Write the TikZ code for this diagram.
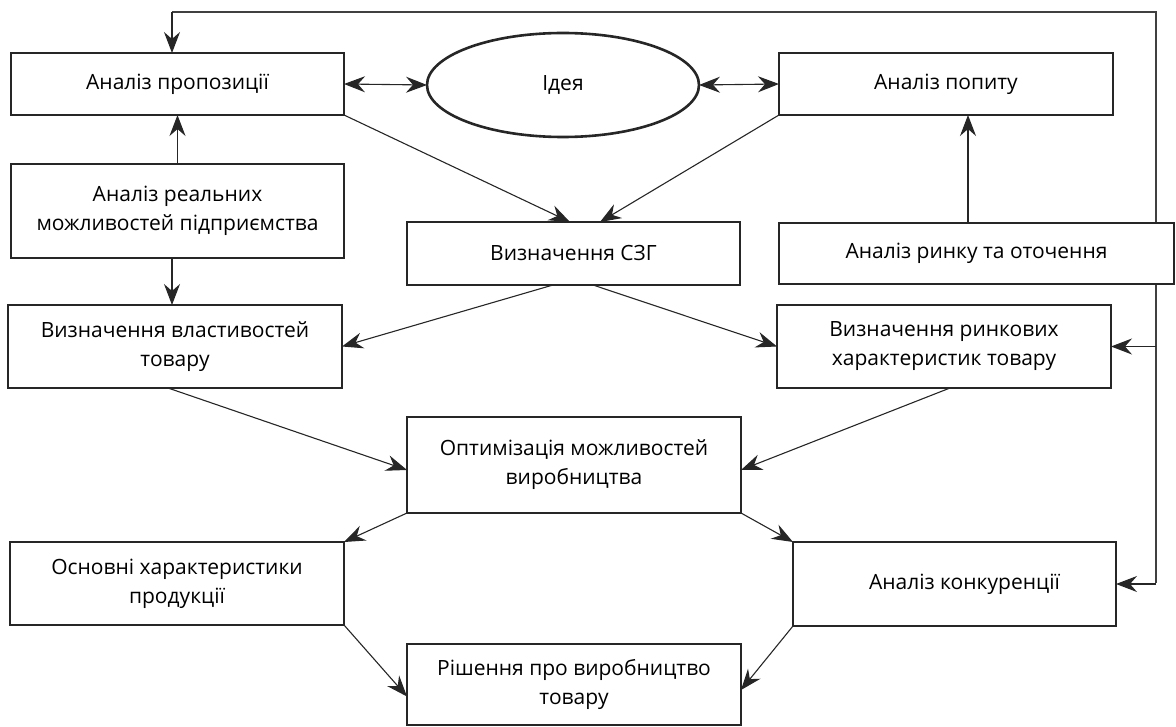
\documentclass[tikz,border=0pt]{standalone}
\usepackage{fontspec}
\setmainfont{Open Sans}
\usetikzlibrary{arrows.meta,shapes.geometric,calc,backgrounds}
\tikzset{
  box/.style={draw=black!85, line width=2.8pt, fill=white, rectangle, inner sep=0pt, outer sep=0pt, align=center, font=\fontsize{21}{29}\selectfont},
  idea/.style={draw=black!85, line width=2.6pt, fill=white, ellipse, inner sep=0pt, outer sep=0pt, minimum width=272pt, minimum height=104pt, font=\fontsize{21}{29}\selectfont},
  conn/.style={draw=black!85, line width=1.1pt, -{Stealth[length=21pt,width=16pt,inset=7pt]}},
  dconn/.style={draw=black!85, line width=1.1pt, {Stealth[length=21pt,width=16pt,inset=7pt]}-{Stealth[length=21pt,width=16pt,inset=7pt]}},
  fb/.style={draw=black!75, line width=1.1pt}
}
\begin{document}
\begin{tikzpicture}[x=1pt,y=-1pt]
\useasboundingbox (0,0) rectangle (1176,727);
\node[box, minimum width=333pt, minimum height=62pt] (b1) at (177.5,84) {Аналіз пропозиції};
\node[idea] (e) at (563,85) {Ідея};
\node[box, minimum width=334pt, minimum height=62pt] (b3) at (946,84) {Аналіз попиту};
\node[box, minimum width=333pt, minimum height=94pt] (b4) at (177.5,211) {Аналіз реальних\\можливостей підприємства};
\node[box, minimum width=333pt, minimum height=63pt] (b5) at (573.5,253.5) {Визначення СЗГ};
\node[box, minimum width=395pt, minimum height=61pt] (b6) at (976.5,253.5) {Аналіз ринку та оточення};
\node[box, minimum width=334pt, minimum height=83pt] (b7) at (175,346.5) {Визначення властивостей\\товару};
\node[box, minimum width=334pt, minimum height=83pt] (b8) at (944,346.5) {Визначення ринкових\\характеристик товару};
\node[box, minimum width=334pt, minimum height=96pt] (b9) at (574,465) {Оптимізація можливостей\\виробництва};
\node[box, minimum width=334pt, minimum height=83pt] (b10) at (177,583.5) {Основні характеристики\\продукції};
\node[box, minimum width=323pt, minimum height=84pt] (b11) at (954.5,584) {\hspace*{20pt}Аналіз конкуренції};
\node[box, minimum width=334pt, minimum height=81pt] (b12) at (574,684.5) {Рішення про виробництво\\товару};
\coordinate (fbB) at (1156,583);
\coordinate (fbTL) at (172,12);
\begin{pgfonlayer}{background}
\draw[fb] (fbB) |- (fbTL);
\draw[conn] (fbTL) -- (fbTL |- b1.north);
\draw[conn] (b8.east -| fbB) -- (b8.east);
\draw[conn] (b11.east -| fbB) -- (b11.east);
\end{pgfonlayer}
\draw[dconn] (b1.east) -- (e.west);
\draw[dconn] (e.east) -- (b3.west);
\draw[conn] (b4.north) -- (b1.south);
\draw[conn] ($(b4.south)+(-5.5,0)$) -- ($(b7.north)+(-3,0)$);
\draw[conn] ($(b6.north)+(-8.5,0)$) -- ($(b3.south)+(22,0)$);
\draw[conn] (b1.south east) -- ($(b5.north)+(-3.5,0)$);
\draw[conn] (b3.south west) -- ($(b5.north)+(26.5,0)$);
\draw[conn] ($(b5.south)+(-20.5,0)$) -- (b7.east);
\draw[conn] ($(b5.south)+(19.5,0)$) -- (b8.west);
\draw[conn] ($(b7.south)+(-7,0)$) -- ($(b9.west)+(0,5)$);
\draw[conn] ($(b8.south)+(6,0)$) -- ($(b9.east)+(0,5)$);
\draw[conn] (b9.south west) -- (b10.north east);
\draw[conn] (b9.south east) -- (b11.north west);
\draw[conn] (b10.south east) -- ($(b12.west)+(0,12)$);
\draw[conn] (b11.south west) -- ($(b12.east)+(0,5.5)$);
\end{tikzpicture}
\end{document}
